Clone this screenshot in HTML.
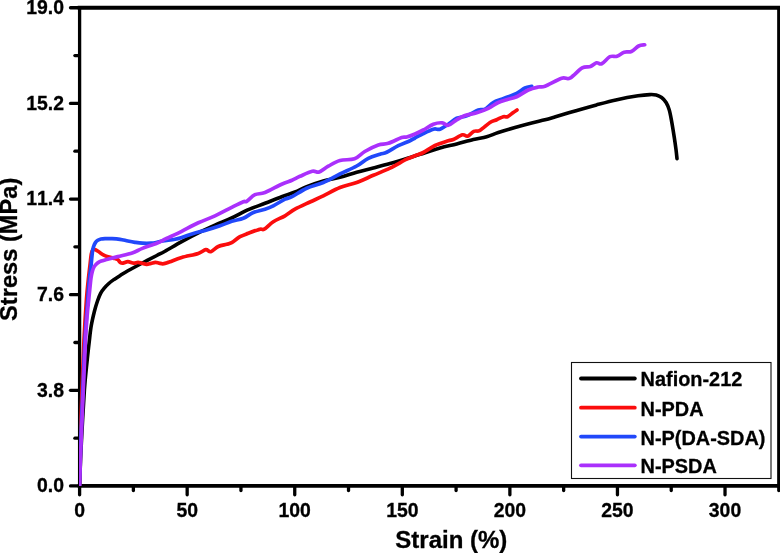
<!DOCTYPE html>
<html lang="en"><head><meta charset="utf-8"><title>Stress-strain curves</title>
<style>
html,body{margin:0;padding:0;background:#fff;}
body{width:780px;height:553px;overflow:hidden;}
svg{display:block;filter:blur(0.45px);}
text{font-family:"Liberation Sans",sans-serif;font-weight:bold;fill:#000;stroke:#000;stroke-width:0.3px;font-kerning:none;}
.tk{font-size:19.4px;}
.lg{font-size:19.9px;}
.ax{font-size:24px;}
</style></head><body>
<svg width="780" height="553" viewBox="0 0 780 553">
<rect x="0" y="0" width="780" height="553" fill="#fff"/>
<defs><clipPath id="pc"><rect x="79.00" y="7.75" width="699.80" height="478.15"/></clipPath></defs>
<g stroke="#000" stroke-width="3.30" fill="none" stroke-linecap="round">
<path d="M79.60,7.75 V485.95 M778.80,7.75 V485.95" stroke-linecap="square"/>
<path d="M79.60,7.75 H778.80 M79.60,485.95 H778.80" stroke-width="3.8" stroke-linecap="square"/>
<line x1="78.60" y1="485.95" x2="70.50" y2="485.95"/>
<line x1="78.60" y1="438.13" x2="74.90" y2="438.13"/>
<line x1="78.60" y1="390.31" x2="70.50" y2="390.31"/>
<line x1="78.60" y1="342.49" x2="74.90" y2="342.49"/>
<line x1="78.60" y1="294.67" x2="70.50" y2="294.67"/>
<line x1="78.60" y1="246.85" x2="74.90" y2="246.85"/>
<line x1="78.60" y1="199.03" x2="70.50" y2="199.03"/>
<line x1="78.60" y1="151.21" x2="74.90" y2="151.21"/>
<line x1="78.60" y1="103.39" x2="70.50" y2="103.39"/>
<line x1="78.60" y1="55.57" x2="74.90" y2="55.57"/>
<line x1="78.60" y1="7.75" x2="70.50" y2="7.75"/>
<line x1="79.60" y1="486.95" x2="79.60" y2="494.85"/>
<line x1="133.38" y1="486.95" x2="133.38" y2="490.55"/>
<line x1="187.17" y1="486.95" x2="187.17" y2="494.85"/>
<line x1="240.95" y1="486.95" x2="240.95" y2="490.55"/>
<line x1="294.74" y1="486.95" x2="294.74" y2="494.85"/>
<line x1="348.52" y1="486.95" x2="348.52" y2="490.55"/>
<line x1="402.31" y1="486.95" x2="402.31" y2="494.85"/>
<line x1="456.09" y1="486.95" x2="456.09" y2="490.55"/>
<line x1="509.88" y1="486.95" x2="509.88" y2="494.85"/>
<line x1="563.66" y1="486.95" x2="563.66" y2="490.55"/>
<line x1="617.45" y1="486.95" x2="617.45" y2="494.85"/>
<line x1="671.23" y1="486.95" x2="671.23" y2="490.55"/>
<line x1="725.02" y1="486.95" x2="725.02" y2="494.85"/>
<line x1="778.80" y1="486.95" x2="778.80" y2="490.55"/>
</g>
<g fill="none" stroke-width="3.50" stroke-linecap="round" stroke-linejoin="round" clip-path="url(#pc)">
<path stroke="#000000" stroke-width="3.6" d="M79.50,485.70 C79.80,478.75 80.48,459.95 81.30,444.00 C82.12,428.05 83.45,403.67 84.40,390.00 C85.35,376.33 86.20,370.00 87.00,362.00 C87.80,354.00 88.50,348.00 89.20,342.00 C89.90,336.00 90.32,331.17 91.20,326.00 C92.08,320.83 93.45,315.17 94.50,311.00 C95.55,306.83 96.48,303.95 97.50,301.00 C98.52,298.05 99.47,295.45 100.60,293.30 C101.73,291.15 102.93,289.73 104.30,288.10 C105.67,286.47 107.28,284.87 108.80,283.50 C110.32,282.13 111.45,281.27 113.40,279.90 C115.35,278.53 118.08,276.82 120.50,275.30 C122.92,273.78 124.25,272.85 127.90,270.80 C131.55,268.75 137.58,265.55 142.40,263.00 C147.22,260.45 153.03,257.47 156.80,255.50 C160.57,253.53 160.85,253.50 165.00,251.20 C169.15,248.90 176.15,244.73 181.70,241.70 C187.25,238.67 192.75,235.75 198.30,233.00 C203.85,230.25 209.43,227.70 215.00,225.20 C220.57,222.70 226.15,220.58 231.70,218.00 C237.25,215.42 242.75,212.15 248.30,209.70 C253.85,207.25 259.43,205.47 265.00,203.30 C270.57,201.13 276.70,198.58 281.70,196.70 C286.70,194.82 290.83,193.67 295.00,192.00 C299.17,190.33 301.98,188.53 306.70,186.70 C311.42,184.87 317.75,182.57 323.30,181.00 C328.85,179.43 334.43,178.75 340.00,177.30 C345.57,175.85 351.15,173.85 356.70,172.30 C362.25,170.75 367.75,169.47 373.30,168.00 C378.85,166.53 384.43,165.08 390.00,163.50 C395.57,161.92 401.70,160.03 406.70,158.50 C411.70,156.97 414.45,156.05 420.00,154.30 C425.55,152.55 433.88,149.72 440.00,148.00 C446.12,146.28 451.15,145.42 456.70,144.00 C462.25,142.58 468.30,140.72 473.30,139.50 C478.30,138.28 482.53,137.87 486.70,136.70 C490.87,135.53 493.58,134.03 498.30,132.50 C503.02,130.97 509.43,129.08 515.00,127.50 C520.57,125.92 526.70,124.28 531.70,123.00 C536.70,121.72 541.03,120.83 545.00,119.80 C548.97,118.77 550.33,118.32 555.50,116.80 C560.67,115.28 569.17,112.68 576.00,110.70 C582.83,108.72 589.67,106.73 596.50,104.90 C603.33,103.07 610.08,101.22 617.00,99.70 C623.92,98.18 632.53,96.65 638.00,95.80 C643.47,94.95 646.77,94.73 649.80,94.60 C652.83,94.47 654.23,94.52 656.20,95.00 C658.17,95.48 659.95,96.25 661.60,97.50 C663.25,98.75 664.83,100.45 666.10,102.50 C667.37,104.55 668.30,106.78 669.20,109.80 C670.10,112.82 670.67,116.08 671.50,120.60 C672.33,125.12 673.45,132.07 674.20,136.90 C674.95,141.73 675.53,145.98 676.00,149.60 C676.47,153.22 676.83,157.10 677.00,158.60"/>
<path stroke="#fb0d0d" stroke-width="3.7" d="M79.50,485.70 C79.63,478.75 79.88,459.95 80.30,444.00 C80.72,428.05 81.38,407.33 82.00,390.00 C82.62,372.67 83.25,355.17 84.00,340.00 C84.75,324.83 85.78,309.00 86.50,299.00 C87.22,289.00 87.73,285.50 88.30,280.00 C88.87,274.50 89.40,270.33 89.90,266.00 C90.40,261.67 90.82,256.70 91.30,254.00 C91.78,251.30 92.02,250.48 92.80,249.80 C93.58,249.12 94.88,249.48 96.00,249.90 C97.12,250.32 98.28,251.47 99.50,252.30 C100.72,253.13 101.88,254.15 103.30,254.90 C104.72,255.65 106.32,256.25 108.00,256.80 C109.68,257.35 111.80,257.75 113.40,258.20 C115.00,258.65 116.47,258.80 117.60,259.50 C118.73,260.20 119.30,261.78 120.20,262.40 C121.10,263.02 121.72,263.32 123.00,263.20 C124.28,263.08 126.12,261.70 127.90,261.70 C129.68,261.70 132.02,263.08 133.70,263.20 C135.38,263.32 136.62,262.40 138.00,262.40 C139.38,262.40 140.55,262.88 142.00,263.20 C143.45,263.52 145.20,264.27 146.70,264.30 C148.20,264.33 149.55,263.72 151.00,263.40 C152.45,263.08 154.07,262.45 155.40,262.40 C156.73,262.35 157.80,262.87 159.00,263.10 C160.20,263.33 161.35,263.82 162.60,263.80 C163.85,263.78 165.27,263.33 166.50,263.00 C167.73,262.67 167.47,262.72 170.00,261.80 C172.53,260.88 176.98,258.88 181.70,257.50 C186.42,256.12 194.28,254.80 198.30,253.50 C202.32,252.20 203.72,250.00 205.80,249.70 C207.88,249.40 208.72,252.23 210.80,251.70 C212.88,251.17 215.65,247.73 218.30,246.50 C220.95,245.27 224.47,244.93 226.70,244.30 C228.93,243.67 229.48,243.97 231.70,242.70 C233.92,241.43 237.23,238.27 240.00,236.70 C242.77,235.13 244.97,234.55 248.30,233.30 C251.63,232.05 257.35,229.88 260.00,229.20 C262.65,228.52 261.98,230.45 264.20,229.20 C266.42,227.95 269.83,223.93 273.30,221.70 C276.77,219.47 281.38,217.88 285.00,215.80 C288.62,213.72 290.83,211.50 295.00,209.20 C299.17,206.90 305.28,204.23 310.00,202.00 C314.72,199.77 318.30,198.22 323.30,195.80 C328.30,193.38 334.43,189.72 340.00,187.50 C345.57,185.28 351.15,184.53 356.70,182.50 C362.25,180.47 367.75,177.68 373.30,175.30 C378.85,172.92 384.43,170.88 390.00,168.20 C395.57,165.52 402.53,161.27 406.70,159.20 C410.87,157.13 412.23,156.92 415.00,155.80 C417.77,154.68 419.97,154.22 423.30,152.50 C426.63,150.78 430.83,147.45 435.00,145.50 C439.17,143.55 445.25,141.80 448.30,140.80 C451.35,139.80 450.93,140.50 453.30,139.50 C455.67,138.50 460.13,135.35 462.50,134.80 C464.87,134.25 465.62,136.77 467.50,136.20 C469.38,135.63 471.72,132.38 473.80,131.40 C475.88,130.42 477.30,131.78 480.00,130.30 C482.70,128.82 487.22,124.27 490.00,122.50 C492.78,120.73 494.48,120.67 496.70,119.70 C498.92,118.73 501.50,117.20 503.30,116.70 C505.10,116.20 505.83,117.40 507.50,116.70 C509.17,116.00 511.72,113.62 513.30,112.50 C514.88,111.38 516.38,110.42 517.00,110.00"/>
<path stroke="#2148fa" stroke-width="3.7" d="M79.50,485.70 C79.68,478.75 80.05,459.95 80.60,444.00 C81.15,428.05 82.07,407.33 82.80,390.00 C83.53,372.67 84.17,355.17 85.00,340.00 C85.83,324.83 87.08,309.00 87.80,299.00 C88.52,289.00 88.77,285.50 89.30,280.00 C89.83,274.50 90.48,270.67 91.00,266.00 C91.52,261.33 91.97,255.25 92.40,252.00 C92.83,248.75 93.10,248.07 93.60,246.50 C94.10,244.93 94.70,243.63 95.40,242.60 C96.10,241.57 96.87,240.90 97.80,240.30 C98.73,239.70 99.80,239.28 101.00,239.00 C102.20,238.72 103.17,238.67 105.00,238.60 C106.83,238.53 109.50,238.48 112.00,238.60 C114.50,238.72 117.35,238.90 120.00,239.30 C122.65,239.70 125.40,240.50 127.90,241.00 C130.40,241.50 132.58,241.93 135.00,242.30 C137.42,242.67 139.73,243.05 142.40,243.20 C145.07,243.35 148.57,243.35 151.00,243.20 C153.43,243.05 155.07,242.67 157.00,242.30 C158.93,241.93 159.60,241.52 162.60,241.00 C165.60,240.48 171.82,239.78 175.00,239.20 C178.18,238.62 178.37,238.53 181.70,237.50 C185.03,236.47 190.83,234.25 195.00,233.00 C199.17,231.75 202.53,231.20 206.70,230.00 C210.87,228.80 215.83,227.25 220.00,225.80 C224.17,224.35 227.82,222.55 231.70,221.30 C235.58,220.05 239.70,219.77 243.30,218.30 C246.90,216.83 249.68,214.02 253.30,212.50 C256.92,210.98 261.67,210.32 265.00,209.20 C268.33,208.08 269.97,207.47 273.30,205.80 C276.63,204.13 281.88,200.72 285.00,199.20 C288.12,197.68 288.38,198.52 292.00,196.70 C295.62,194.88 301.48,190.67 306.70,188.30 C311.92,185.93 317.75,184.88 323.30,182.50 C328.85,180.12 334.43,176.75 340.00,174.00 C345.57,171.25 351.98,168.62 356.70,166.00 C361.42,163.38 364.42,160.27 368.30,158.30 C372.18,156.33 376.93,155.20 380.00,154.20 C383.07,153.20 383.65,153.72 386.70,152.30 C389.75,150.88 394.42,147.63 398.30,145.70 C402.18,143.77 407.22,141.98 410.00,140.70 C412.78,139.42 413.08,139.03 415.00,138.00 C416.92,136.97 418.45,135.97 421.50,134.50 C424.55,133.03 430.22,130.08 433.30,129.20 C436.38,128.32 437.50,130.03 440.00,129.20 C442.50,128.37 445.52,126.02 448.30,124.20 C451.08,122.38 453.63,119.70 456.70,118.30 C459.77,116.90 463.10,117.18 466.70,115.80 C470.30,114.42 475.25,111.10 478.30,110.00 C481.35,108.90 482.50,110.45 485.00,109.20 C487.50,107.95 490.52,104.17 493.30,102.50 C496.08,100.83 499.20,100.17 501.70,99.20 C504.20,98.23 505.80,97.68 508.30,96.70 C510.80,95.72 513.92,94.75 516.70,93.30 C519.48,91.85 522.50,89.17 525.00,88.00 C527.50,86.83 530.58,86.58 531.70,86.30"/>
<path stroke="#aa30fc" stroke-width="3.7" d="M79.50,485.70 C79.75,478.75 80.37,459.95 81.00,444.00 C81.63,428.05 82.55,407.33 83.30,390.00 C84.05,372.67 84.85,352.50 85.50,340.00 C86.15,327.50 86.63,322.00 87.20,315.00 C87.77,308.00 88.40,303.00 88.90,298.00 C89.40,293.00 89.85,288.33 90.20,285.00 C90.55,281.67 90.65,280.25 91.00,278.00 C91.35,275.75 91.80,273.33 92.30,271.50 C92.80,269.67 93.35,268.22 94.00,267.00 C94.65,265.78 95.45,264.97 96.20,264.20 C96.95,263.43 97.65,262.92 98.50,262.40 C99.35,261.88 100.30,261.48 101.30,261.10 C102.30,260.72 103.45,260.40 104.50,260.10 C105.55,259.80 105.38,259.88 107.60,259.30 C109.82,258.72 113.70,257.67 117.80,256.60 C121.90,255.53 128.10,254.27 132.20,252.90 C136.30,251.53 138.30,250.02 142.40,248.40 C146.50,246.78 153.03,244.73 156.80,243.20 C160.57,241.67 162.47,240.40 165.00,239.20 C167.53,238.00 169.22,237.32 172.00,236.00 C174.78,234.68 177.32,233.50 181.70,231.30 C186.08,229.10 192.75,225.37 198.30,222.80 C203.85,220.23 209.43,218.48 215.00,215.90 C220.57,213.32 226.98,209.67 231.70,207.30 C236.42,204.93 240.80,202.70 243.30,201.70 C245.80,200.70 244.75,202.47 246.70,201.30 C248.65,200.13 251.95,196.17 255.00,194.70 C258.05,193.23 260.55,194.25 265.00,192.50 C269.45,190.75 277.20,186.25 281.70,184.20 C286.20,182.15 288.95,181.52 292.00,180.20 C295.05,178.88 296.62,177.78 300.00,176.30 C303.38,174.82 309.10,172.02 312.30,171.30 C315.50,170.58 316.53,172.85 319.20,172.00 C321.87,171.15 324.83,168.12 328.30,166.20 C331.77,164.28 335.63,161.73 340.00,160.50 C344.37,159.27 350.37,160.30 354.50,158.80 C358.63,157.30 360.83,153.80 364.80,151.50 C368.77,149.20 374.38,146.37 378.30,145.00 C382.22,143.63 384.40,144.55 388.30,143.30 C392.20,142.05 398.63,138.55 401.70,137.50 C404.77,136.45 404.48,137.58 406.70,137.00 C408.92,136.42 412.23,135.17 415.00,134.00 C417.77,132.83 420.25,131.63 423.30,130.00 C426.35,128.37 430.13,125.40 433.30,124.20 C436.47,123.00 439.80,122.62 442.30,122.80 C444.80,122.98 446.02,125.72 448.30,125.30 C450.58,124.88 453.22,121.92 456.00,120.30 C458.78,118.68 461.55,116.85 465.00,115.60 C468.45,114.35 472.82,114.02 476.70,112.80 C480.58,111.58 484.70,110.02 488.30,108.30 C491.90,106.58 495.23,103.93 498.30,102.50 C501.37,101.07 503.63,100.67 506.70,99.70 C509.77,98.73 513.10,98.32 516.70,96.70 C520.30,95.08 524.70,91.62 528.30,90.00 C531.90,88.38 535.52,87.62 538.30,87.00 C541.08,86.38 541.10,87.77 545.00,86.30 C548.90,84.83 557.55,79.55 561.70,78.20 C565.85,76.85 566.48,79.92 569.90,78.20 C573.32,76.48 578.78,69.85 582.20,67.90 C585.62,65.95 588.02,67.35 590.40,66.50 C592.78,65.65 594.62,63.25 596.50,62.80 C598.38,62.35 599.47,64.82 601.70,63.80 C603.93,62.78 607.35,57.95 609.90,56.70 C612.45,55.45 614.62,57.05 617.00,56.30 C619.38,55.55 621.80,53.00 624.20,52.20 C626.60,51.40 629.00,52.53 631.40,51.50 C633.80,50.47 636.38,47.12 638.60,46.00 C640.82,44.88 643.68,45.00 644.70,44.80"/>
</g>
<text class="tk" x="64" y="14.20" text-anchor="end">19.0</text>
<text class="tk" x="64" y="109.84" text-anchor="end">15.2</text>
<text class="tk" x="64" y="205.48" text-anchor="end">11.4</text>
<text class="tk" x="64" y="301.12" text-anchor="end">7.6</text>
<text class="tk" x="64" y="396.76" text-anchor="end">3.8</text>
<text class="tk" x="64" y="492.40" text-anchor="end">0.0</text>
<text class="tk" x="79.60" y="516.6" text-anchor="middle">0</text>
<text class="tk" x="187.17" y="516.6" text-anchor="middle">50</text>
<text class="tk" x="294.74" y="516.6" text-anchor="middle">100</text>
<text class="tk" x="402.31" y="516.6" text-anchor="middle">150</text>
<text class="tk" x="509.88" y="516.6" text-anchor="middle">200</text>
<text class="tk" x="617.45" y="516.6" text-anchor="middle">250</text>
<text class="tk" x="725.02" y="516.6" text-anchor="middle">300</text>
<text class="ax" x="395.3" y="547.8">Strain (%)</text>
<text class="ax" style="font-size:23.65px" transform="translate(17.0,320.9) rotate(-90)">Stress (MPa)</text>
<rect x="571.5" y="362.5" width="199.5" height="116" fill="#fff" stroke="#111" stroke-width="1.1"/>
<line x1="581" y1="378.50" x2="634.8" y2="378.50" stroke="#000000" stroke-width="3.8" stroke-linecap="round"/>
<text class="lg" x="640.6" y="386.40">Nafion-212</text>
<line x1="581" y1="407.70" x2="634.8" y2="407.70" stroke="#fb0d0d" stroke-width="3.8" stroke-linecap="round"/>
<text class="lg" x="640.6" y="415.60">N-PDA</text>
<line x1="581" y1="436.60" x2="634.8" y2="436.60" stroke="#2148fa" stroke-width="3.8" stroke-linecap="round"/>
<text class="lg" x="640.6" y="444.50">N-P(DA-SDA)</text>
<line x1="581" y1="465.30" x2="634.8" y2="465.30" stroke="#aa30fc" stroke-width="3.8" stroke-linecap="round"/>
<text class="lg" x="640.6" y="473.20">N-PSDA</text>
</svg>
</body></html>
